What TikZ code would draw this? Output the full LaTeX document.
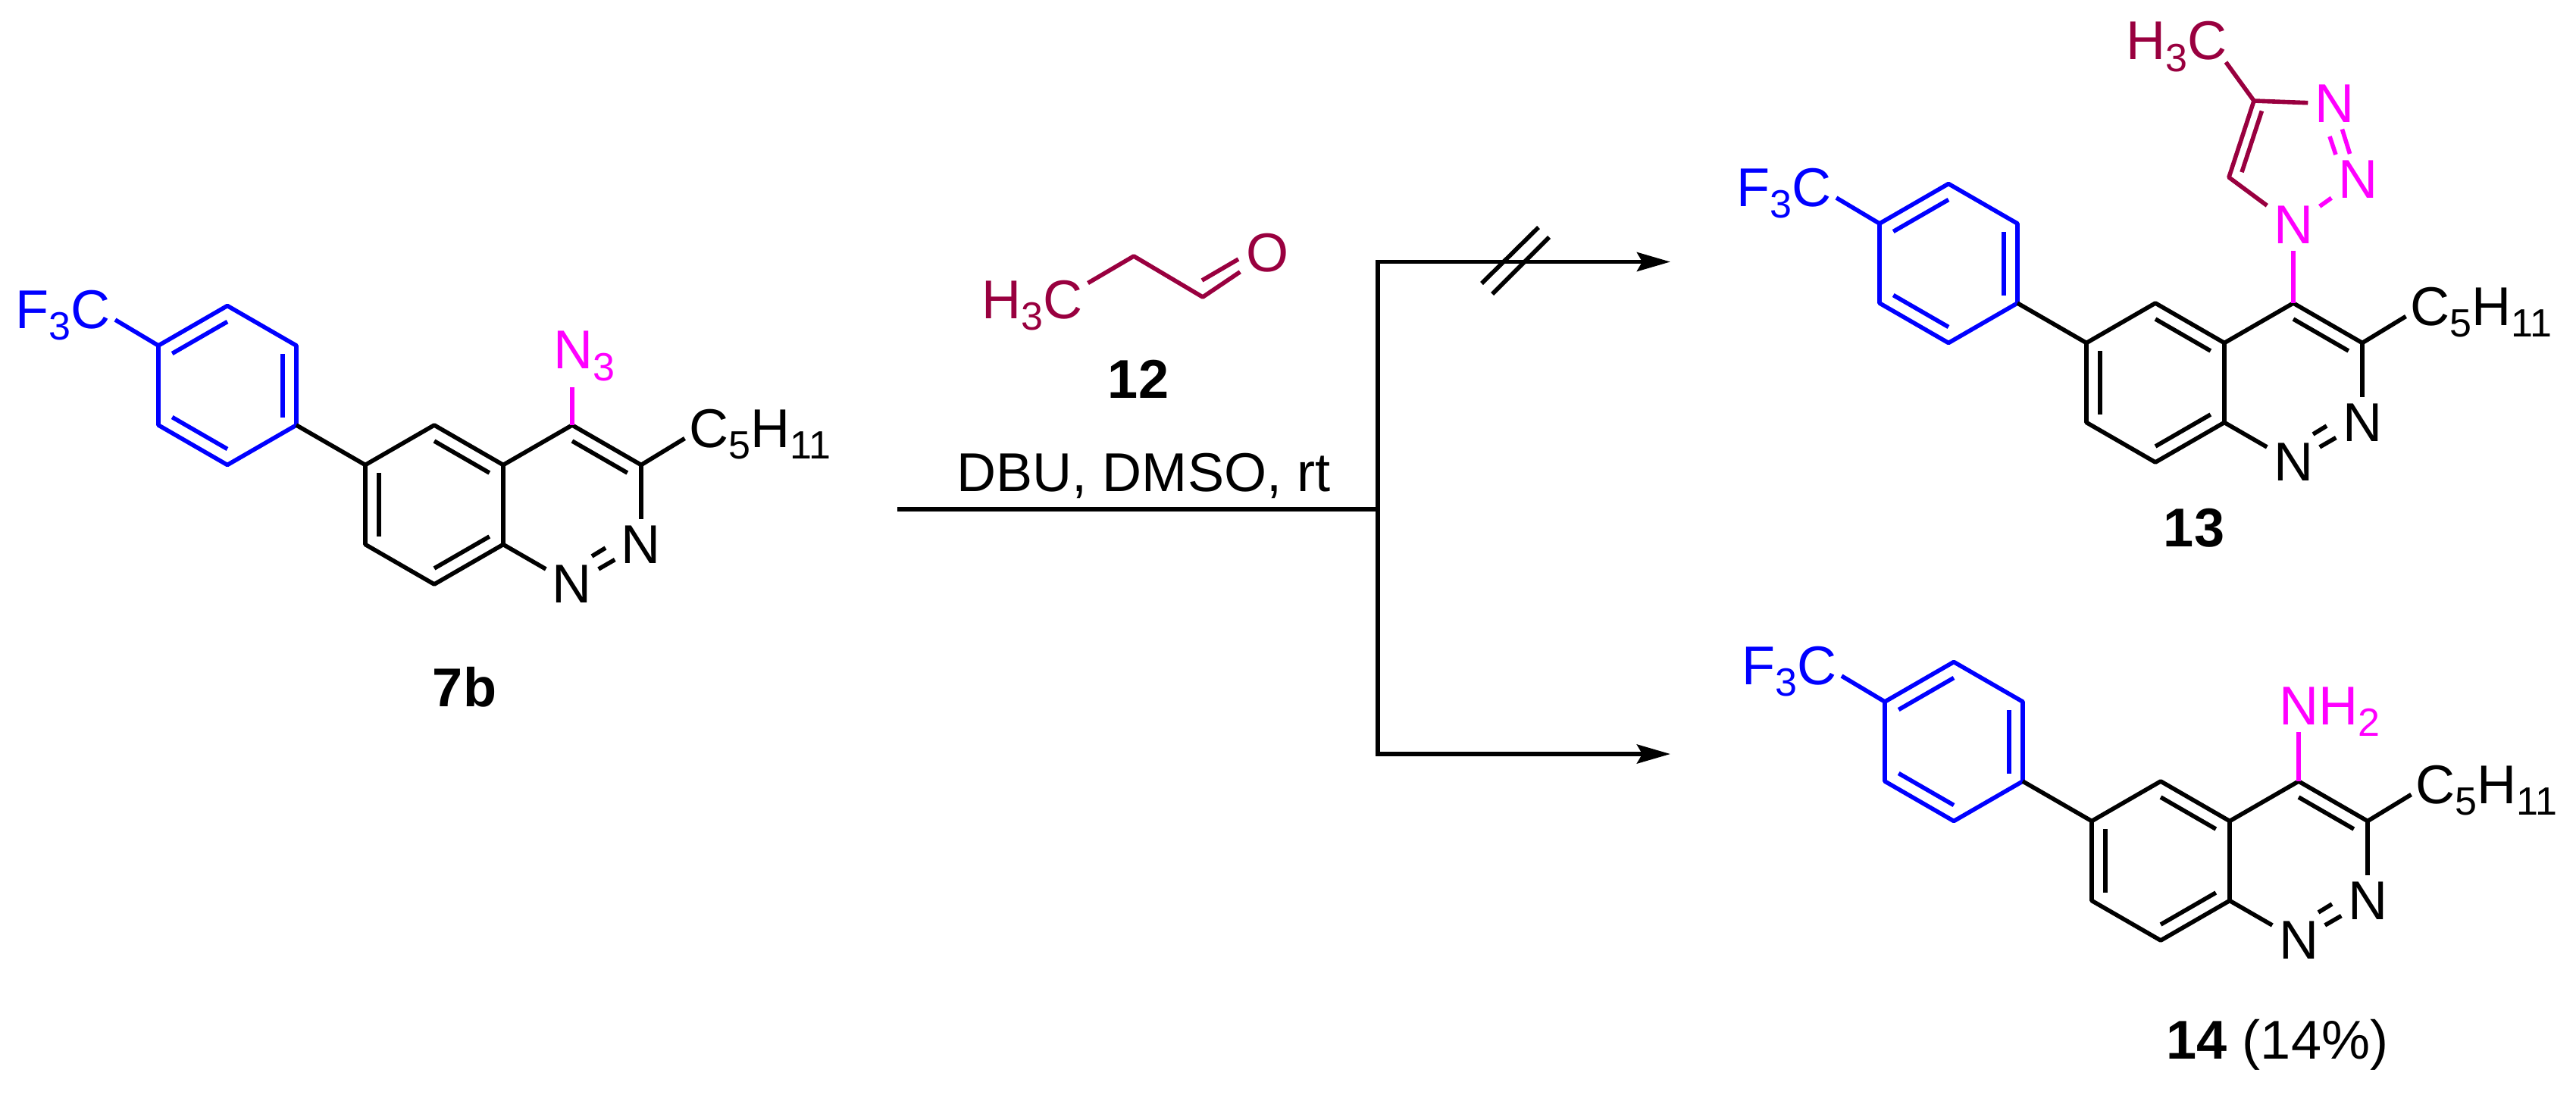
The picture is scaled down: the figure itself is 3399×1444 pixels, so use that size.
\documentclass[tikz,border=0pt]{standalone}
\usepackage{fontspec}
\setmainfont{Liberation Sans}
\usetikzlibrary{arrows.meta,calc}
\definecolor{wine}{HTML}{99003F}
\definecolor{azo}{RGB}{255,0,255}
\definecolor{aryl}{RGB}{0,0,255}
\newcommand{\chemsub}[1]{\raisebox{-4.5pt}{\fontsize{14.8}{15}\selectfont #1}}
\tikzset{
	bond/.style={line width=1.6pt, line join=round},
	atom/.style={inner sep=0.08cm, font=\fontsize{20.5}{24}\selectfont},
	chemtext/.style={inner sep=0pt, anchor=base west, font=\fontsize{20.5}{24}\selectfont},
	cmpd/.style={inner sep=0pt, anchor=base, font=\fontsize{20.5}{24}\selectfont\bfseries},
	rxnline/.style={line width=1.6pt},
	rxnarrow/.style={rxnline, -{Stealth[length=0.44cm, width=0.25cm, inset=0.07cm]}}
}
% second stroke of a double bond: the ring bond shrunk towards the ring centre
\newcommand{\innerbond}[4][black]{\draw[bond, #1] ($(#2)!0.8!(#3)$) -- ($(#2)!0.8!(#4)$);}
% the shared skeleton, origin on C4
\newcommand{\arylcinnoline}{
	\coordinate (C4) at (0,0);
	\coordinate (C3) at (91,52.5);
	\coordinate (C8a) at (-91,157.5);
	\coordinate (C4a) at (-91,52.5);
	\coordinate (C5) at (-182,0);
	\coordinate (C6) at (-273,52.5);
	\coordinate (C7) at (-273,157.5);
	\coordinate (C8) at (-182,210);
	\coordinate (ringA) at (-182,105);
	\coordinate (ringB) at (0,105);
	\coordinate (Pa) at (-364,0);
	\coordinate (Pb) at (-364,-105);
	\coordinate (Pc) at (-455,-157.5);
	\coordinate (Pd) at (-546,-105);
	\coordinate (Pe) at (-546,0);
	\coordinate (Pf) at (-455,52.5);
	\coordinate (ringP) at (-455,-52.5);
	\coordinate (cfEnd) at (-603,-139);
	\coordinate (pentEnd) at (148.5,17.5);
	\node[atom] (N2) at (91,157.5) {N};
	\node[atom] (N1) at (0,210) {N};
	\node[chemtext, text=aryl] (cf3) at (-735,-128) {F\chemsub{3}C};
	\node[chemtext] (pentyl) at (154,29) {C\chemsub{5}H\chemsub{11}};

	% Draw the aryl ring
	\draw[bond, aryl] (Pa) -- (Pb) -- (Pc) -- (Pd) -- (Pe) -- (Pf) -- cycle;
	\draw[bond, aryl] (Pd) -- (cfEnd);
	\innerbond[aryl]{ringP}{Pa}{Pb}
	\innerbond[aryl]{ringP}{Pc}{Pd}
	\innerbond[aryl]{ringP}{Pe}{Pf}

	% Draw the cinnoline
	\draw[bond] (Pa) -- (C6) -- (C7) -- (C8) -- (C8a) -- (C4a) -- (C5) -- (C6);
	\draw[bond] (C4a) -- (C4) -- (C3) -- (pentEnd);
	\draw[bond] (C3) -- (N2);
	\draw[bond] (C8a) -- (N1);
	\draw[bond] (N1) -- (N2);
	\draw[bond] (26,173) -- (44,162);
	\innerbond{ringA}{C5}{C4a}
	\innerbond{ringA}{C6}{C7}
	\innerbond{ringA}{C8}{C8a}
	\innerbond{ringB}{C4}{C3}
}

\begin{document}
\begin{tikzpicture}[x=0.01cm, y=-0.01cm]
	\useasboundingbox (0,0) rectangle (3399,1444);

	% Starting azide
	\begin{scope}[shift={(755,561)}, name prefix=azide-]
		\arylcinnoline
		\coordinate (azEnd) at (0,-50);
		\node[chemtext, text=azo] (azido) at (-25.5,-74.5) {N\chemsub{3}};
		\draw[bond, azo] (C4) -- (azEnd);
	\end{scope}
	\node[cmpd] (lbl7b) at (613,932) {7b};

	% Propanal
	\node[chemtext, text=wine] (methyl) at (1295,420) {H\chemsub{3}C};
	\node[atom, text=wine] (oxy) at (1673,334) {O};
	\coordinate (methylEnd) at (1435.5,373.5);
	\coordinate (ch2) at (1496,338);
	\coordinate (cho) at (1587,392);
	\draw[bond, wine] (methylEnd) -- (ch2) -- (cho) -- (oxy);
	\draw[bond, wine] (1586,370) -- (1634,342);
	\node[cmpd] (lbl12) at (1502,525.5) {12};

	% Reaction arrows
	\node[chemtext] (cond) at (1262,648) {DBU, DMSO, rt};
	\coordinate (rxnStart) at (1184,672);
	\coordinate (rxnFork) at (1818,672);
	\coordinate (rxnTop) at (1818,345.5);
	\coordinate (rxnBot) at (1818,995);
	\coordinate (tipTop) at (2204,345.5);
	\coordinate (tipBot) at (2204,995);
	\draw[rxnline] (rxnStart) -- (rxnFork);
	\draw[rxnarrow] (rxnFork) -- (rxnTop) -- (tipTop);
	\draw[rxnarrow] (rxnFork) -- (rxnBot) -- (tipBot);
	\draw[rxnline] (1955,374) -- (2030,300);
	\draw[rxnline] (1969,388) -- (2044,313);

	% Triazole product
	\begin{scope}[shift={(3026,400)}, name prefix=triaz-]
		\arylcinnoline
		\node[atom, text=azo] (Nt1) at (0,-103) {N};
		\node[atom, text=azo] (Nt2) at (85,-163.5) {N};
		\node[atom, text=azo] (Nt3) at (54,-263) {N};
		\coordinate (Ct5) at (-85,-166);
		\coordinate (Ct4) at (-52,-267);
		\coordinate (ringT) at (0,-200);
		\coordinate (meEnd) at (-89,-318);
		\node[chemtext, text=wine] (triazMe) at (-221,-321.5) {H\chemsub{3}C};
		\draw[bond, azo] (C4) -- (Nt1);
		\draw[bond, azo] (Nt1) -- (Nt2);
		\draw[bond, azo] (Nt2) -- (Nt3);
		\draw[bond, azo] (48,-220) -- (56,-196);
		\draw[bond, wine] (Nt1) -- (Ct5) -- (Ct4) -- (Nt3);
		\draw[bond, wine] (Ct4) -- (meEnd);
		\innerbond[wine]{ringT}{Ct5}{Ct4}
	\end{scope}
	\node[cmpd] (lbl13) at (2895,721) {13};

	% Amine product
	\begin{scope}[shift={(3033,1031)}, name prefix=amine-]
		\arylcinnoline
		\coordinate (amEnd) at (0,-65.5);
		\node[chemtext, text=azo] (amino) at (-26.5,-75) {NH\chemsub{2}};
		\draw[bond, azo] (C4) -- (amEnd);
	\end{scope}
	\node[chemtext] (lbl14) at (2858,1397.5) {\textbf{14} (14\%)};
\end{tikzpicture}
\end{document}
